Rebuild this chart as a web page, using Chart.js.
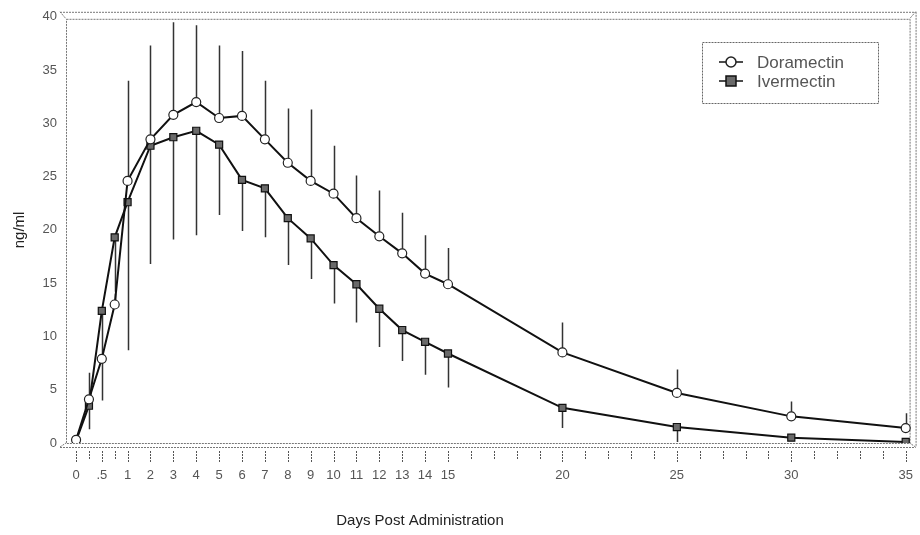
<!DOCTYPE html>
<html>
<head>
<meta charset="utf-8">
<script src="https://cdn.jsdelivr.net/npm/chart.js@4.4.0/dist/chart.umd.min.js"></script>
<style>
  html, body { margin:0; padding:0; background:#fff; }
</style>
</head>
<body>
<canvas id="chart" width="920" height="535"></canvas>
<script>
// Dados (ng/ml por dia pós-administração)
const days = [0, 0.25, 0.5, 0.75, 1, 2, 3, 4, 5, 6, 7, 8, 9, 10, 11, 12, 13, 14, 15, 20, 25, 30, 35];
const doramectin      = [0.3, 4.1, 7.9, 13.0, 24.6, 28.5, 30.8, 32.0, 30.5, 30.7, 28.5, 26.3, 24.6, 23.4, 21.1, 19.4, 17.8, 15.9, 14.9, 8.5, 4.7, 2.5, 1.4];
const doramectinUpper = [0.3, 6.6, 8.6, 14.0, 34.0, 37.3, 39.5, 39.2, 37.3, 36.8, 34.0, 31.4, 31.3, 27.9, 25.1, 23.7, 21.6, 19.5, 18.3, 11.3, 6.9, 3.9, 2.8];
const ivermectin      = [0.2, 3.5, 12.4, 19.3, 22.6, 27.9, 28.7, 29.3, 28.0, 24.7, 23.9, 21.1, 19.2, 16.7, 14.9, 12.6, 10.6, 9.5, 8.4, 3.3, 1.5, 0.5, 0.1];
const ivermectinLower = [0.2, 1.3, 4.0, 14.2, 8.7, 16.8, 19.1, 19.5, 21.4, 19.9, 19.3, 16.7, 15.4, 13.1, 11.3, 9.0, 7.7, 6.4, 5.2, 1.4, 0.1, 0.5, 0.1];

// Marcas do eixo x e rótulos
const tickDays = [0, 0.25, 0.5, 0.75, 1, 2, 3, 4, 5, 6, 7, 8, 9, 10, 11, 12, 13, 14, 15, 16, 17, 18, 19, 20, 21, 22, 23, 24, 25, 26, 27, 28, 29, 30, 31, 32, 33, 34, 35];
const labelDays = [0, 0.5, 1, 2, 3, 4, 5, 6, 7, 8, 9, 10, 11, 12, 13, 14, 15, 20, 25, 30, 35];
const labelText = ['0', '.5', '1', '2', '3', '4', '5', '6', '7', '8', '9', '10', '11', '12', '13', '14', '15', '20', '25', '30', '35'];
const yTicks = [0, 5, 10, 15, 20, 25, 30, 35, 40];

// eixo x esticado entre 0 e 1 dia
const pos = d => d <= 1 ? d * 2.25 : d + 1.25;

const FONT = 'Liberation Sans, Arial, sans-serif';

const framePlugin = {
  id: 'frame',
  beforeDatasetsDraw(chart) {
    const { ctx, chartArea: a, scales: { x, y } } = chart;
    ctx.save();
    // moldura "3D"
    ctx.strokeStyle = '#777';
    ctx.lineWidth = 1;
    ctx.setLineDash([2, 1]);
    const L = a.left, R = a.right - 3, T = a.top + 2, B = a.bottom;
    const L2 = L - 6, R2 = a.right + 3, T2 = a.top - 5, B2 = B + 4;
    ctx.strokeRect(L + 0.5, T + 0.5, R - L, B - T);
    ctx.beginPath();
    ctx.moveTo(L2, T2 + 0.5); ctx.lineTo(R2, T2 + 0.5);
    ctx.moveTo(R2 + 0.5, T2); ctx.lineTo(R2 + 0.5, B2);
    ctx.moveTo(L2, B2 + 0.5); ctx.lineTo(R2, B2 + 0.5);
    ctx.moveTo(L2, T2); ctx.lineTo(L, T);
    ctx.moveTo(L2, B2); ctx.lineTo(L, B);
    ctx.moveTo(R2, T2); ctx.lineTo(R, T);
    ctx.moveTo(R2, B2); ctx.lineTo(R, B);
    ctx.stroke();
    ctx.setLineDash([]);

    // barras de erro (doramectina para cima, ivermectina para baixo)
    ctx.strokeStyle = '#333';
    ctx.lineWidth = 1.5;
    ctx.beginPath();
    days.forEach((d, i) => {
      const px = Math.round(x.getPixelForValue(pos(d))) + 0.5;
      ctx.moveTo(px, y.getPixelForValue(doramectin[i]));
      ctx.lineTo(px, y.getPixelForValue(doramectinUpper[i]));
      ctx.moveTo(px, y.getPixelForValue(ivermectin[i]));
      ctx.lineTo(px, y.getPixelForValue(ivermectinLower[i]));
    });
    ctx.stroke();
    ctx.restore();
  },
  afterDraw(chart) {
    const { ctx, chartArea: a, scales: { x } } = chart;
    ctx.save();
    // marcas do eixo x
    ctx.strokeStyle = '#555';
    ctx.lineWidth = 1;
    ctx.setLineDash([2, 1]);
    ctx.beginPath();
    tickDays.forEach(d => {
      const px = Math.round(x.getPixelForValue(pos(d))) + 0.5;
      const len = labelDays.includes(d) ? 11 : 8;
      ctx.moveTo(px, a.bottom + 8);
      ctx.lineTo(px, a.bottom + 8 + len);
    });
    ctx.stroke();
    ctx.setLineDash([]);

    // título do eixo x
    ctx.fillStyle = '#222';
    ctx.font = '15px ' + FONT;
    ctx.textAlign = 'center';
    ctx.textBaseline = 'middle';
    ctx.fillText('Days Post Administration', 420, 521);

    // legenda
    const bx = 702, by = 42, bw = 176, bh = 61;
    ctx.strokeStyle = '#666';
    ctx.setLineDash([2, 1]);
    ctx.strokeRect(bx + 0.5, by + 0.5, bw, bh);
    ctx.setLineDash([]);
    ctx.font = '17px ' + FONT;
    ctx.textAlign = 'left';
    chart.data.datasets.forEach((ds, i) => {
      const ly = by + 20 + i * 19;
      ctx.strokeStyle = '#111';
      ctx.lineWidth = 1.5;
      ctx.beginPath();
      ctx.moveTo(719, ly); ctx.lineTo(743, ly);
      ctx.stroke();
      ctx.fillStyle = ds.pointBackgroundColor;
      ctx.strokeStyle = ds.pointBorderColor;
      ctx.beginPath();
      if (ds.pointStyle === 'circle') ctx.arc(731, ly, 5, 0, Math.PI * 2);
      else ctx.rect(726, ly - 5, 10, 10);
      ctx.fill(); ctx.stroke();
      ctx.fillStyle = '#555';
      ctx.fillText(ds.label, 757, ly + 1);
    });
    ctx.restore();
  }
};

new Chart(document.getElementById('chart'), {
  type: 'line',
  data: {
    datasets: [
      {
        label: 'Doramectin',
        data: days.map((d, i) => ({ x: pos(d), y: doramectin[i] })),
        borderColor: '#111', borderWidth: 2,
        pointStyle: 'circle', pointRadius: 4.5,
        pointBackgroundColor: '#fff', pointBorderColor: '#222', pointBorderWidth: 1.2
      },
      {
        label: 'Ivermectin',
        data: days.map((d, i) => ({ x: pos(d), y: ivermectin[i] })),
        borderColor: '#111', borderWidth: 2,
        pointStyle: 'rect', pointRadius: 5,
        pointBackgroundColor: '#6a6a6a', pointBorderColor: '#111', pointBorderWidth: 1.2
      }
    ]
  },
  options: {
    responsive: false,
    animation: false,
    layout: { padding: { top: 13, right: 5, left: 0, bottom: 0 } },
    plugins: { legend: { display: false }, tooltip: { enabled: false } },
    scales: {
      x: {
        type: 'linear', min: -0.44, max: 36.55,
        afterBuildTicks: s => { s.ticks = tickDays.map(d => ({ value: pos(d) })); },
        afterFit: s => { s.height = 92; },
        border: { display: false },
        grid: { display: true, drawOnChartArea: false, drawTicks: true, tickLength: 18, color: 'rgba(0,0,0,0)' },
        ticks: {
          autoSkip: false, maxRotation: 0, padding: 7, color: '#555',
          font: { size: 13, family: FONT },
          callback: (v, i) => {
            const k = labelDays.indexOf(tickDays[i]);
            return k >= 0 ? labelText[k] : '';
          }
        }
      },
      y: {
        min: 0, max: 40,
        afterBuildTicks: s => { s.ticks = yTicks.map(v => ({ value: v })); },
        afterFit: s => { s.width = 66; },
        border: { display: false },
        grid: { display: false, drawTicks: false },
        ticks: { padding: 9, color: '#555', font: { size: 13, family: FONT } },
        title: { display: true, text: 'ng/ml', color: '#222', font: { size: 15, family: FONT }, padding: { top: 11, bottom: 0 } }
      }
    }
  },
  plugins: [framePlugin]
});
</script>
</body>
</html>
